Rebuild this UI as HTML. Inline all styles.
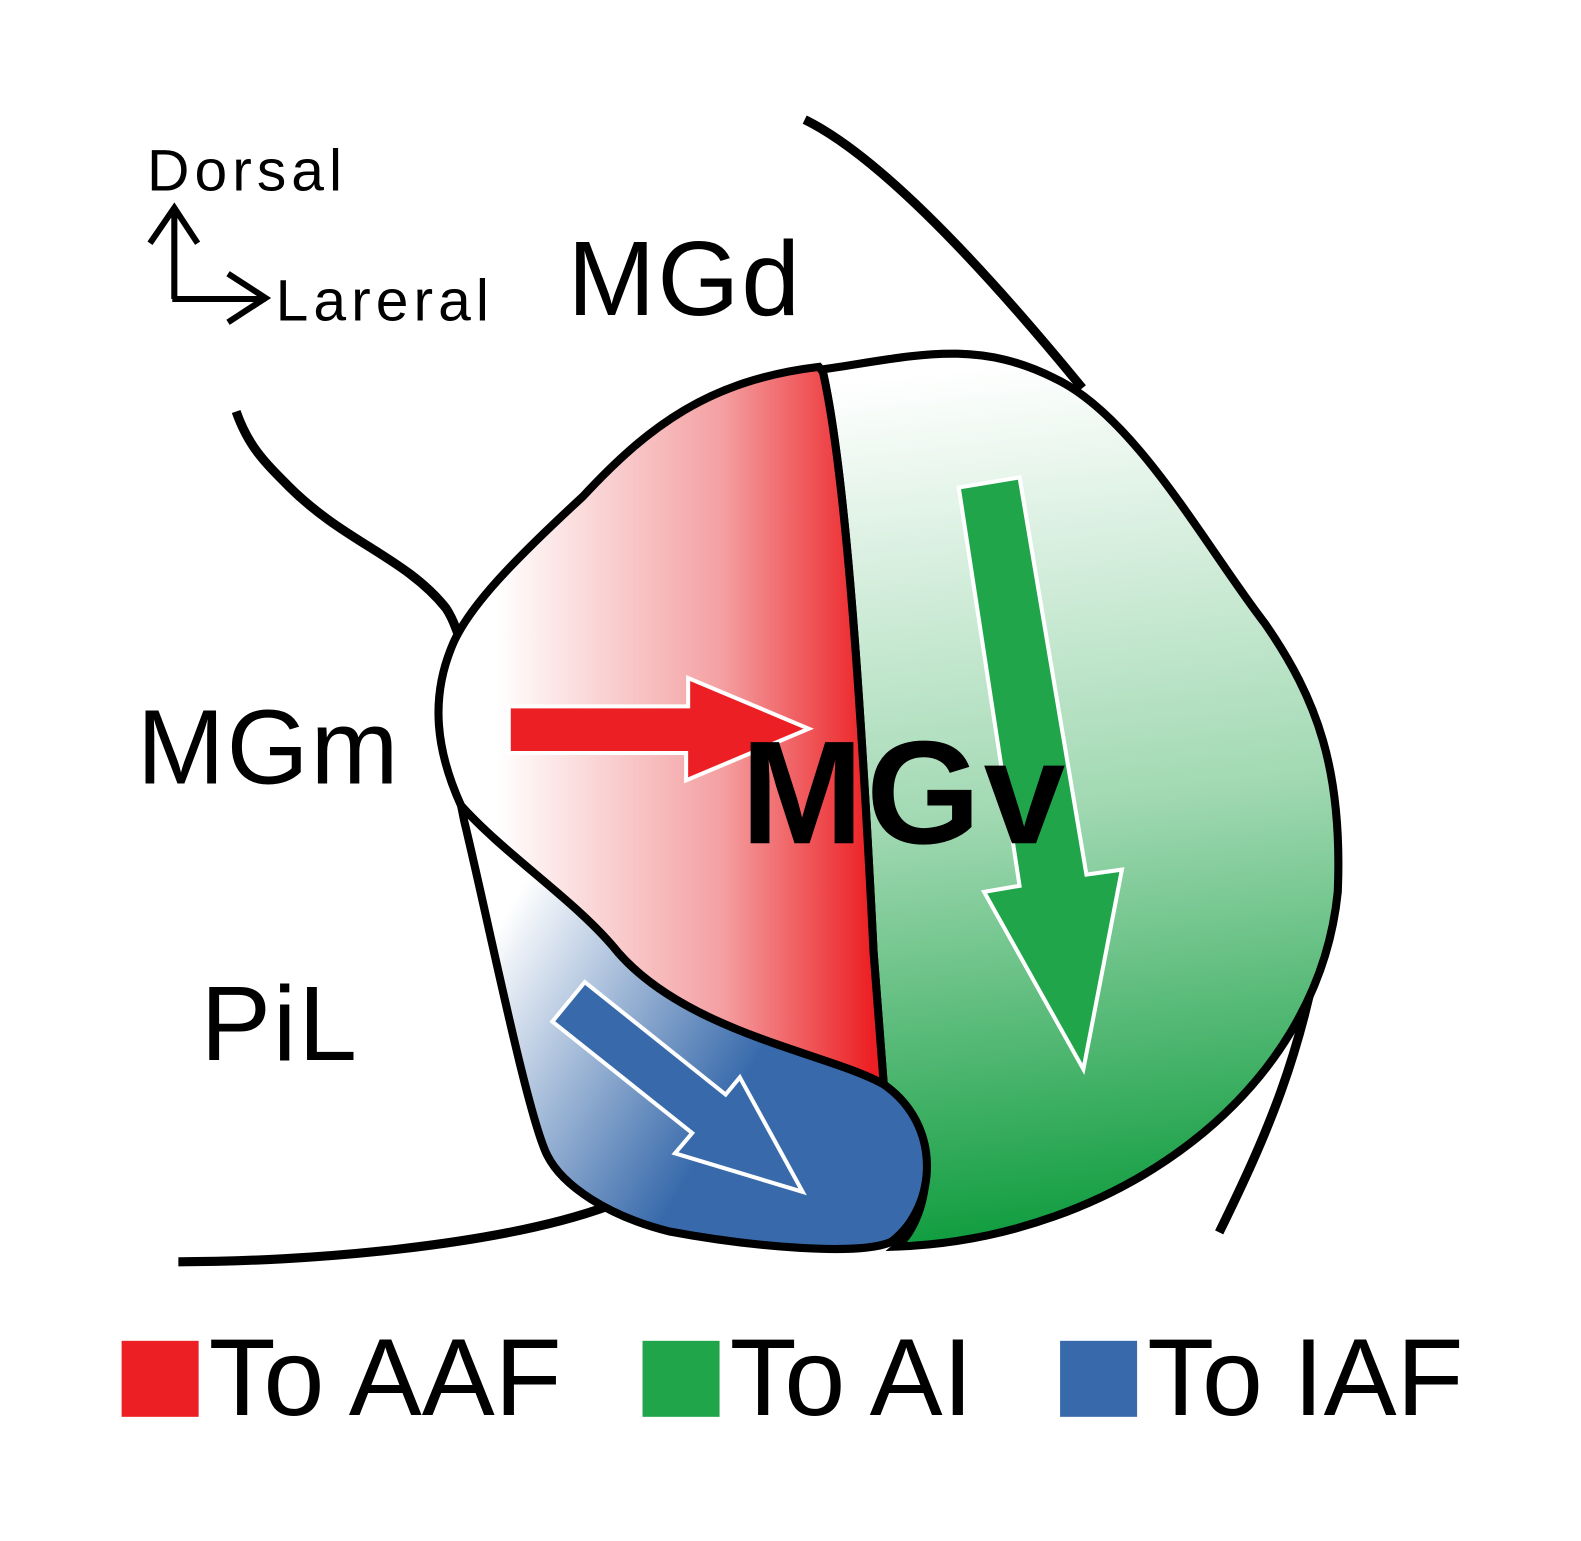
<!DOCTYPE html>
<html><head><style>html,body{margin:0;padding:0;background:#fff}svg{display:block}</style></head>
<body>
<svg width="1581" height="1541" viewBox="0 0 1560 1520.5" xmlns="http://www.w3.org/2000/svg">
<defs>
<linearGradient id="gr" x1="490" y1="0" x2="860" y2="0" gradientUnits="userSpaceOnUse">
<stop offset="0" stop-color="#fff"/><stop offset="0.6" stop-color="#f4a0a2"/><stop offset="1" stop-color="#ec2024"/></linearGradient>
<linearGradient id="gg" x1="980" y1="360" x2="1080" y2="1230" gradientUnits="userSpaceOnUse">
<stop offset="0" stop-color="#fff"/><stop offset="0.5" stop-color="#a2d9b3"/><stop offset="1" stop-color="#0a9a3a"/></linearGradient>
<linearGradient id="gb" x1="500" y1="900" x2="790" y2="1070" gradientUnits="userSpaceOnUse">
<stop offset="0" stop-color="#fff"/><stop offset="0.85" stop-color="#386aab"/><stop offset="1" stop-color="#386aab"/></linearGradient>
</defs>
<g fill="none" stroke="#000" stroke-width="9">
<path d="M794,118 C880,160 1000,300 1068,383"/>
<path d="M233,406 C245,440 260,455 285,480 C340,535 400,550 440,600 C450,615 450,625 455,630"/>
<path d="M176,1245 C300,1245 490,1230 600,1190"/>
<path d="M1305,915 C1285,1040 1250,1120 1203,1216"/>
</g>
<path d="M808,365 C900,352 960,333 1040,373 C1120,410 1190,540 1248,615 C1300,690 1325,760 1320,880 C1300,1080 1100,1222 885,1230 C920,1200 930,1110 872,1070 L862,940 C850,700 835,470 812,367 Z" fill="url(#gg)" stroke="#000" stroke-width="8"/>
<path d="M808,362 C700,375 640,420 575,490 C510,550 460,600 445,640 C425,690 430,740 455,795 C500,845 570,890 610,940 C680,1020 820,1040 872,1070 L862,940 C850,700 835,470 812,367 Z" fill="url(#gr)" stroke="#000" stroke-width="8"/>
<path d="M455,795 C500,845 570,890 610,940 C680,1020 820,1040 872,1070 C930,1110 925,1190 880,1225 C850,1240 740,1230 660,1215 C600,1200 555,1170 540,1140 C520,1100 480,900 458,810 Z" fill="url(#gb)" stroke="#000" stroke-width="8"/>
<polygon points="502,697 679,697 679,669 798,719 677,770 677,743 502,743" fill="#ec2024" stroke="#fff" stroke-width="4"/>
<polygon points="946,481 1006,471 1072,863 1107,858 1069,1055 971,880 1006,874" fill="#20a54b" stroke="#fff" stroke-width="4"/>
<polygon points="545,1008 577,969 716,1080 730,1063 792,1176 666,1138 683,1118" fill="#386aab" stroke="#fff" stroke-width="4"/>
<g fill="none" stroke="#000" stroke-width="6">
<path d="M172,295 L172,207 M148,240 L172,205 L195,240"/>
<path d="M170,295 L262,295 M225,270 L262,294 L225,318"/>
</g>
<g font-family="Liberation Sans, sans-serif" fill="#000">
<text x="145" y="188" font-size="58" letter-spacing="5">Dorsal</text>
<text x="272" y="316" font-size="58" letter-spacing="5">Lareral</text>
<text x="560" y="311" font-size="104" letter-spacing="2">MGd</text>
<text x="135" y="773" font-size="104" letter-spacing="2">MGm</text>
<text x="198" y="1046" font-size="104" letter-spacing="2">PiL</text>
<text x="731" y="832" font-size="145" font-weight="bold" letter-spacing="3">MGv</text>
<text x="206" y="1396" font-size="108">To AAF</text>
<text x="720" y="1396" font-size="108">To AI</text>
<text x="1132" y="1396" font-size="108">To IAF</text>
</g>
<rect x="120" y="1323" width="76" height="75" fill="#ec2024"/>
<rect x="634" y="1323" width="76" height="75" fill="#20a54b"/>
<rect x="1046" y="1323" width="76" height="75" fill="#386aab"/>
</svg>
</body></html>
